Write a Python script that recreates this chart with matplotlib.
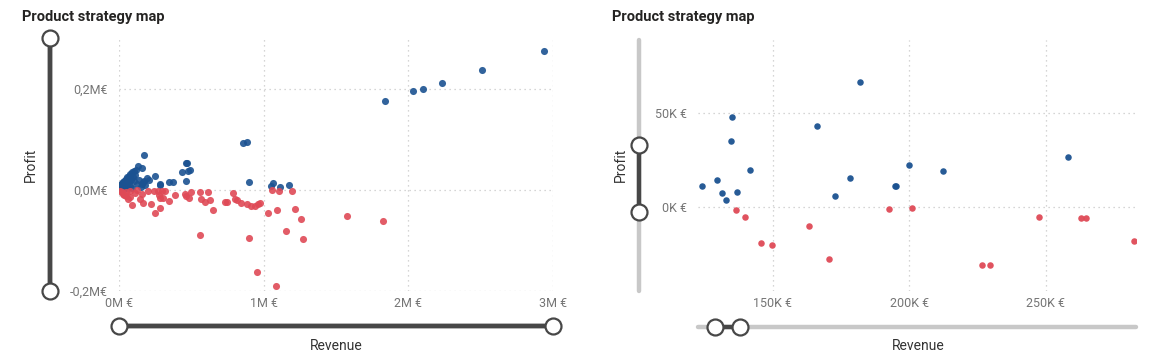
import matplotlib
matplotlib.use("Agg")
import matplotlib.pyplot as plt
from matplotlib.ticker import FuncFormatter

W, H = 1160, 360

# ---- left chart: whole product range (M€) ----
left_blue_revenue = [2.937, 2.511, 2.233, 2.103, 2.032, 1.838,
                     0.854, 0.887, 0.902, 1.052, 1.063, 1.114, 1.174,
                     0.466, 0.472, 0.475, 0.493, 0.436, 0.461,
                     0.348, 0.374, 0.282, 0.285, 0.252,
                     0.174, 0.130, 0.160, 0.194, 0.210, 0.171, 0.137, 0.166,
                     0.102, 0.091, 0.079, 0.068, 0.056, 0.045, 0.033, 0.022, 0.010, 0.002,
                     0.102, 0.125, 0.160, 0.079, 0.045, 0.022, 0.056, 0.110, 0.095, 0.085,
                     0.070, 0.060, 0.040, 0.030, 0.015, 0.005, 0.012, 0.035, 0.065, 0.090,
                     0.118, 0.180, 0.150, 0.008, 0.018, 0.028, 0.050, 0.075]
left_blue_profit = [0.275, 0.236, 0.212, 0.200, 0.195, 0.176,
                    0.092, 0.095, 0.015, 0.007, 0.013, 0.005, 0.010,
                    0.052, 0.053, 0.038, 0.039, 0.035, 0.018,
                    0.015, 0.015, 0.012, 0.009, 0.028,
                    0.068, 0.048, 0.044, 0.024, 0.020, 0.018, 0.020, 0.016,
                    0.038, 0.035, 0.032, 0.028, 0.025, 0.022, 0.018, 0.014, 0.010, 0.005,
                    0.018, 0.012, 0.012, 0.008, 0.006, 0.004, 0.012, 0.030, 0.025, 0.020,
                    0.015, 0.018, 0.012, 0.008, 0.005, 0.002, 0.001, 0.002, 0.004, 0.003,
                    0.040, 0.010, 0.005, 0.007, 0.011, 0.016, 0.020, 0.024]

left_red_revenue = [0.029, 0.045, 0.063, 0.091, 0.075, 0.079, 0.010, 0.020, 0.050, 0.035,
                    0.125, 0.144, 0.160, 0.164, 0.222, 0.252, 0.240, 0.270, 0.298, 0.321,
                    0.286, 0.286, 0.274, 0.303, 0.346, 0.388, 0.459, 0.466, 0.484, 0.500,
                    0.562, 0.615, 0.569, 0.592, 0.631, 0.647, 0.734, 0.749, 0.785, 0.801,
                    0.813, 0.843, 0.886, 0.912, 0.941, 0.964, 0.973, 1.029, 1.059, 1.107,
                    1.091, 1.194, 1.219, 1.256, 1.576, 1.825, 1.275, 1.155, 0.900, 0.558,
                    0.953, 1.083, 0.110, 0.200]
left_red_profit = [-0.008, -0.013, -0.019, -0.031, -0.015, -0.003, -0.003, -0.005, -0.004, -0.010,
                   -0.001, -0.018, -0.008, -0.027, -0.029, -0.046, -0.003, -0.002, -0.002, -0.002,
                   -0.036, -0.017, -0.010, -0.017, -0.022, -0.011, -0.009, -0.013, -0.017, -0.005,
                   -0.004, -0.005, -0.018, -0.025, -0.021, -0.040, -0.025, -0.024, -0.007, -0.018,
                   -0.020, -0.027, -0.029, -0.032, -0.033, -0.028, -0.027, -0.046, -0.001, -0.002,
                   -0.040, -0.003, -0.038, -0.058, -0.052, -0.062, -0.098, -0.082, -0.096, -0.090,
                   -0.163, -0.191, -0.006, -0.002]

# ---- right chart: zoomed-in on the slider selection (K€) ----
right_blue_revenue = [124.1, 129.5, 131.6, 132.9, 135.0, 134.6, 136.8, 141.6, 166.3,
                      172.8, 178.2, 182.0, 194.7, 195.3, 200.1, 212.2, 258.1]
right_blue_profit = [11.0, 14.5, 7.6, 3.7, 47.7, 35.1, 8.0, 19.5, 43.3,
                     5.9, 15.4, 66.5, 11.2, 11.2, 22.3, 19.1, 26.6]

right_red_revenue = [136.5, 140.0, 145.7, 149.6, 163.5, 170.5, 192.6, 201.1,
                     226.7, 229.5, 247.4, 263.0, 264.6, 282.4]
right_red_profit = [-1.6, -5.1, -19.1, -20.4, -9.9, -27.8, -0.9, -0.35,
                    -30.7, -31.0, -5.5, -5.7, -5.7, -17.9]

# slider handle positions (data units)
right_profit_handles = [-2.7, 33.0]
right_revenue_handles = [129.0, 137.9]

BLUE = "#1b5291"
RED = "#df4a56"
DARK = "#474747"
TRACK = "#c8c8c8"
FONT = "Roboto"


def px_axes(fig, x0, y0, x1, y1):
    """axes placed with pixel coords (top-left origin)"""
    return fig.add_axes([x0 / W, 1 - y1 / H, (x1 - x0) / W, (y1 - y0) / H])


def style_axes(ax):
    for s in ax.spines.values():
        s.set_visible(False)
    ax.grid(True, color="#c8c8c8", linestyle=(0, (1, 3)), linewidth=0.9)
    ax.set_axisbelow(True)
    ax.tick_params(length=0, labelsize=9, labelcolor="#757575")
    ax.tick_params(axis="y", pad=8)
    ax.tick_params(axis="x", pad=4)
    for lab in ax.get_xticklabels() + ax.get_yticklabels():
        lab.set_fontfamily(FONT)


def draw_slider(ov, p0, p1, h0, h1, full_dark):
    """track from p0 to p1, active part h0..h1, handles at h0 and h1"""
    col = DARK if full_dark else TRACK
    ov.plot([p0[0], p1[0]], [p0[1], p1[1]], color=col, lw=3.2, solid_capstyle="round")
    ov.plot([h0[0], h1[0]], [h0[1], h1[1]], color=DARK, lw=3.2, solid_capstyle="round")
    ov.plot([h0[0], h1[0]], [h0[1], h1[1]], "o", ms=11.5, mfc="white",
            mec=DARK, mew=1.6, ls="none")


fig = plt.figure(figsize=(W / 100, H / 100), dpi=100)
fig.patch.set_facecolor("white")

# ---------- left ----------
ax1 = px_axes(fig, 119, 38, 553, 291)
ax1.scatter(left_blue_revenue, left_blue_profit, s=26, color=BLUE, alpha=0.9, lw=0)
ax1.scatter(left_red_revenue, left_red_profit, s=26, color=RED, alpha=0.9, lw=0)
ax1.set_xlim(0, 3)
ax1.set_ylim(-0.2, 0.3)
ax1.set_xticks([0, 1, 2, 3])
ax1.set_yticks([-0.2, 0.0, 0.2])
ax1.xaxis.set_major_formatter(FuncFormatter(lambda v, p: f"{v:.0f}M €"))
ax1.yaxis.set_major_formatter(FuncFormatter(lambda v, p: f"{v:.1f}M€".replace(".", ",")))
style_axes(ax1)

# ---------- right ----------
ax2 = px_axes(fig, 698, 40, 1136, 291)
ax2.scatter(right_blue_revenue, right_blue_profit, s=22, color=BLUE, alpha=0.95, lw=0)
ax2.scatter(right_red_revenue, right_red_profit, s=22, color=RED, alpha=0.95, lw=0)
ax2.set_xlim(122.7, 283)
ax2.set_ylim(-44.7, 88.8)
ax2.set_xticks([150, 200, 250])
ax2.set_yticks([0, 50])
ax2.xaxis.set_major_formatter(FuncFormatter(lambda v, p: f"{v:.0f}K €"))
ax2.yaxis.set_major_formatter(FuncFormatter(lambda v, p: f"{v:.0f}K €"))
style_axes(ax2)

# titles + axis names
for x0 in (22, 612):
    fig.text(x0 / W, 1 - 17 / H, "Product strategy map", fontsize=10.5, fontweight="bold",
             family=FONT, color="#252423", va="center", ha="left")
for xp, xr in ((31, 336), (621, 918)):
    fig.text(xp / W, 1 - 165 / H, "Profit", rotation=90, fontsize=10, family=FONT,
             color="#333333", ha="center", va="center")
    fig.text(xr / W, 1 - 346 / H, "Revenue", fontsize=10, family=FONT,
             color="#333333", ha="center", va="center")

# ---------- sliders (overlay in pixel coords) ----------
ov = fig.add_axes([0, 0, 1, 1])
ov.set_xlim(0, W)
ov.set_ylim(0, H)
ov.axis("off")
ov.patch.set_alpha(0)


def to_px(ax, x, y):
    return ax.transData.transform((x, y))


# left: handles at full range
y_lo = to_px(ax1, 0, -0.2)[1]
y_hi = to_px(ax1, 0, 0.3)[1]
draw_slider(ov, (50, y_lo), (50, y_hi), (50, y_lo), (50, y_hi), True)
x_lo = to_px(ax1, 0, 0)[0]
x_hi = to_px(ax1, 3, 0)[0]
draw_slider(ov, (x_lo, H - 326), (x_hi, H - 326), (x_lo, H - 326), (x_hi, H - 326), True)

# right: narrow selections on a grey track
y_lo = to_px(ax2, 0, -44.7)[1]
y_hi = to_px(ax2, 0, 88.8)[1]
h0 = to_px(ax2, 0, right_profit_handles[0])[1]
h1 = to_px(ax2, 0, right_profit_handles[1])[1]
draw_slider(ov, (639, y_lo), (639, y_hi), (639, h0), (639, h1), False)
x_lo = to_px(ax2, 122.7, 0)[0]
x_hi = to_px(ax2, 283, 0)[0]
h0 = to_px(ax2, right_revenue_handles[0], 0)[0]
h1 = to_px(ax2, right_revenue_handles[1], 0)[0]
draw_slider(ov, (x_lo, H - 327), (x_hi, H - 327), (h0, H - 327), (h1, H - 327), False)

plt.savefig("out.png", dpi=100)
